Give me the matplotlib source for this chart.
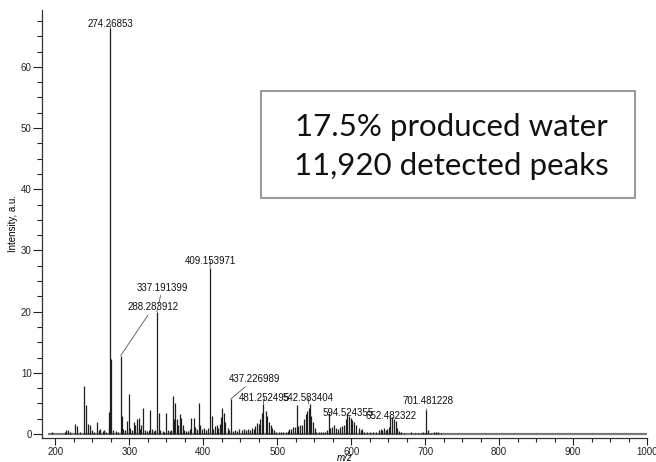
import matplotlib
matplotlib.use("Agg")
import matplotlib.pyplot as plt
from matplotlib.patches import Rectangle
from matplotlib.ticker import MultipleLocator

# peak list (m/z, intensity in a.u.)
mz_values = [
    195.5, 212.8, 215.0, 217.5, 220.0, 227.0, 229.4, 233.0, 238.3, 241.5,
    243.7, 246.5, 249.0, 252.0, 256.4, 258.5, 260.9, 264.0, 266.5, 269.0,
    272.1, 273.2, 274.27, 275.27, 278.5, 282.5, 285.0, 288.28, 290.2, 292.0,
    294.5, 297.0, 299.2, 301.5, 303.5, 306.0, 308.3, 310.6, 312.7, 314.5,
    316.0, 318.7, 321.0, 324.0, 326.0, 328.6, 331.0, 333.0, 335.0, 337.19,
    339.8, 342.0, 345.0, 347.0, 349.8, 352.0, 354.5, 357.0, 359.3, 361.0,
    362.4, 364.7, 366.5, 368.2, 370.0, 372.3, 374.5, 377.0, 380.0, 382.0,
    384.0, 387.2, 389.4, 392.0, 394.4, 396.2, 398.5, 401.0, 403.5, 406.0,
    409.15, 411.2, 413.5, 416.0, 418.0, 420.0, 422.5, 424.6, 425.5, 427.7,
    430.0, 433.2, 435.5, 437.23, 440.0, 443.0, 446.0, 449.0, 452.0, 455.0,
    458.0, 461.0, 463.5, 466.2, 468.5, 470.5, 472.5, 475.0, 477.4, 479.6,
    481.25, 484.2, 486.4, 488.7, 491.0, 493.5, 496.0, 499.0, 502.0, 505.0,
    508.5, 511.5, 514.0, 516.5, 519.0, 521.5, 524.0, 526.2, 528.5, 530.5,
    533.0, 536.0, 538.3, 540.5, 542.58, 543.7, 546.0, 548.2, 550.5, 553.0,
    556.0, 559.0, 562.0, 565.0, 567.7, 569.9, 572.0, 574.5, 577.0, 579.5,
    582.0, 584.5, 587.0, 590.0, 592.4, 594.52, 596.9, 599.2, 601.5, 603.7,
    606.9, 610.5, 613.0, 615.0, 618.0, 622.0, 626.0, 630.0, 634.0, 637.0,
    639.8, 642.0, 644.3, 646.5, 648.8, 651.0, 652.48, 655.6, 657.8, 660.1,
    662.4, 664.5, 667.0, 672.0, 680.4, 686.0, 691.0, 694.0, 697.0, 699.5,
    701.48, 703.8, 708.0, 712.0, 715.0, 718.0, 721.0,
]
intensity_values = [
    0.4, 0.4, 0.6, 0.7, 0.3, 1.6, 1.3, 0.4, 7.8, 4.7,
    1.7, 1.4, 0.6, 0.4, 2.0, 0.6, 0.9, 0.5, 0.6, 0.4,
    3.6, 1.0, 66.3, 12.3, 0.6, 0.5, 0.4, 12.8, 2.9, 0.8,
    0.6, 2.1, 6.5, 1.0, 0.7, 1.9, 1.5, 2.4, 2.6, 0.9,
    1.5, 4.2, 0.7, 0.5, 0.6, 4.0, 0.8, 0.5, 0.6, 20.0,
    3.4, 0.6, 0.5, 0.4, 3.5, 0.6, 0.5, 0.7, 6.2, 2.4,
    5.0, 2.5, 1.5, 3.2, 2.7, 1.5, 0.6, 0.5, 0.5, 0.8,
    2.7, 2.7, 1.2, 0.8, 5.0, 1.5, 0.8, 1.0, 0.7, 1.0,
    27.2, 3.0, 0.8, 1.3, 1.5, 1.0, 1.6, 2.8, 4.2, 3.5,
    2.0, 1.0, 0.6, 5.7, 0.5, 0.6, 0.5, 0.8, 0.6, 0.9,
    0.7, 0.8, 0.6, 1.0, 0.8, 1.3, 1.8, 1.6, 2.5, 3.5,
    4.9, 3.8, 3.0, 2.0, 1.5, 1.0, 0.6, 0.4, 0.3, 0.3,
    0.4, 0.3, 0.5, 0.8, 0.9, 1.2, 1.1, 4.7, 1.3, 1.5,
    1.4, 2.5, 3.2, 3.8, 4.2, 4.9, 3.0, 2.0, 1.0, 0.4,
    0.3, 0.3, 0.4, 0.3, 0.6, 3.4, 1.0, 1.2, 1.4, 1.0,
    0.8, 1.1, 1.3, 1.5, 2.5, 3.2, 2.9, 2.7, 2.3, 2.0,
    1.5, 1.0, 0.6, 0.8, 0.4, 0.3, 0.3, 0.3, 0.4, 0.6,
    0.8, 0.6, 1.0, 0.7, 0.8, 1.2, 2.6, 2.8, 2.5, 2.2,
    1.0, 0.5, 0.3, 0.2, 0.4, 0.2, 0.2, 0.2, 0.3, 0.2,
    3.9, 0.7, 0.2, 0.3, 0.3, 0.3, 0.2,
]

# labelled peaks: m/z, height, label position (m/z, intensity)
label_text = ['274.26853', '288.283912', '337.191399', '409.153971', '437.226989',
              '481.252495', '542.583404', '594.524355', '652.482322', '701.481228']
label_height = [66.3, 12.8, 20.0, 27.2, 5.7, 4.9, 4.9, 3.2, 2.6, 3.9]
label_x = [274.4, 332.6, 344.8, 409.7, 469.3, 482.8, 542.3, 596.5, 653.3, 703.4]
label_y = [67.0, 20.75, 23.9, 28.3, 9.0, 5.9, 5.9, 3.5, 3.0, 5.4]

box_lines = ["17.5% produced water", "11,920 detected peaks"]

plt.rcParams['font.family'] = ['Liberation Sans', 'DejaVu Sans']

fig = plt.figure(figsize=(6.56, 4.62), dpi=100)
ax = fig.add_axes([42 / 656, 24 / 462, 605 / 656, 428 / 462])

# baseline of the spectrum
ax.hlines(0, 190, 1000, color='#7a7a7a', lw=1.6, zorder=1)
ax.vlines(mz_values, 0, intensity_values, color='#1e1e1e', lw=0.9, zorder=2)

for txt, h, tx, ty in zip(label_text, label_height, label_x, label_y):
    ax.annotate(txt, xy=(float(txt), h), xytext=(tx, ty), textcoords='data',
                ha='center', va='center', fontsize=7, color='#111111',
                arrowprops=dict(arrowstyle='-', color='#333333', lw=0.5,
                                shrinkA=0, shrinkB=0))

ax.set_xlim(182, 1000)
ax.set_ylim(-0.65, 69.3)

ax.xaxis.set_major_locator(MultipleLocator(100))
ax.xaxis.set_minor_locator(MultipleLocator(25))
ax.yaxis.set_major_locator(MultipleLocator(10))
ax.yaxis.set_minor_locator(MultipleLocator(2.5))
ax.tick_params(axis='x', which='major', length=5, width=0.8, pad=1.5, labelsize=7, colors='#222222')
ax.tick_params(axis='x', which='minor', length=3, width=0.8, colors='#222222')
ax.tick_params(axis='y', which='major', length=6.5, width=0.8, pad=1, labelsize=7, colors='#222222')
ax.tick_params(axis='y', which='minor', length=3.6, width=0.8, colors='#222222')

for side in ('top', 'right'):
    ax.spines[side].set_visible(False)
for side in ('left', 'bottom'):
    ax.spines[side].set_color('#333333')
    ax.spines[side].set_linewidth(0.9)

ax.set_ylabel('Intensity, a.u.', fontsize=7, labelpad=2)
ax.set_xlabel('m/z', fontsize=7, style='italic', labelpad=-3)

# annotation box
fig.patches.append(Rectangle((261 / 656, 1 - 198 / 462), 374 / 656, 107 / 462,
                             transform=fig.transFigure, facecolor='white',
                             edgecolor='#9a9a9a', lw=1.5, zorder=5))
fig.text(451 / 656, 1 - 127 / 462, box_lines[0], ha='center', va='center',
         fontsize=22.5, family=['Lato', 'DejaVu Sans'], color='#111111', zorder=6)
fig.text(451 / 656, 1 - 166 / 462, box_lines[1], ha='center', va='center',
         fontsize=22.5, family=['Lato', 'DejaVu Sans'], color='#111111', zorder=6)

fig.savefig('out.png', dpi=100)
